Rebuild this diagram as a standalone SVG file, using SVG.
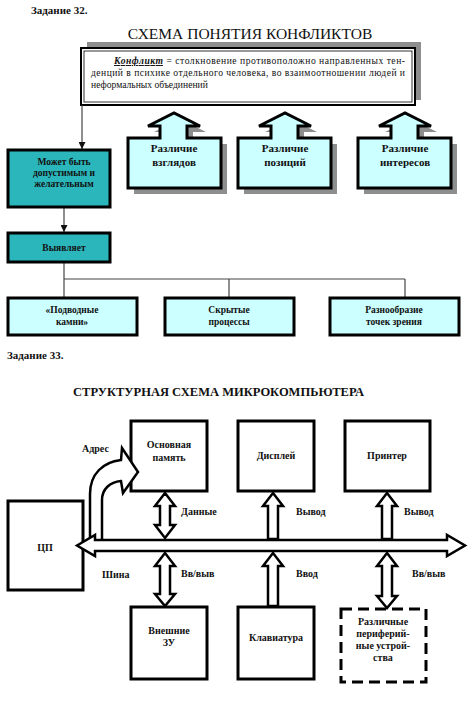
<svg xmlns="http://www.w3.org/2000/svg" width="474" height="705" viewBox="0 0 474 705">
<style>
text{font-family:"Liberation Serif","Times New Roman",serif;fill:#111}
.b{font-weight:bold}
.lbl{font-weight:bold;font-size:10px}
.box{fill:#fff;stroke:#000;stroke-width:3}
.teal{fill:#2bb6bc;stroke:#000;stroke-width:3}
.cyan{fill:#ccffff;stroke:#000;stroke-width:3}
.shadow{fill:#8e8e8e}
.ln{fill:none;stroke:#444;stroke-width:1.2}
.barrow{fill:#fff;stroke:#000;stroke-width:2.5;stroke-linejoin:miter}
.c{text-anchor:middle}
</style>
<defs>
<marker id="ah" viewBox="0 0 10 10" refX="10" refY="5" markerWidth="7" markerHeight="7" markerUnits="userSpaceOnUse" orient="auto">
<path d="M0,0 L10,5 L0,10 Z" fill="#111"/>
</marker>
</defs>

<rect width="474" height="705" fill="#fff"/>

<!-- Task 32 -->
<text x="31" y="14" class="b" font-size="11">Задание 32.</text>
<text x="250" y="39" class="c" font-size="15.5">СХЕМА ПОНЯТИЯ КОНФЛИКТОВ</text>

<g id="definition">
<rect class="shadow" x="87" y="42" width="334" height="58"/>
<rect x="81" y="48" width="334" height="57" fill="#fff" stroke="#000" stroke-width="2"/>
<rect x="84" y="51" width="328" height="51" fill="none" stroke="#000" stroke-width="0.8"/>
<text x="114" y="64" font-size="9.6" textLength="291" lengthAdjust="spacing"><tspan font-weight="bold" font-style="italic" text-decoration="underline">Конфликт</tspan> = столкновение противоположно направленных тен-</text>
<text x="91" y="76" font-size="9.6" textLength="314" lengthAdjust="spacing">денций в психике отдельного человека, во взаимоотношении людей и</text>
<text x="91" y="88" font-size="9.6">неформальных объединений</text>
</g>

<g id="callout1">
<path class="shadow" d="M134,144 L166,144 L166,132 L154,132 L180,119 L206,132 L193,132 L193,144 L227,144 L227,194 L134,194 Z"/>
<path class="cyan" d="M128,138 L160,138 L160,126 L148,126 L174,113 L200,126 L187,126 L187,138 L221,138 L221,188 L128,188 Z"/>
<text x="174" y="152" class="c b" font-size="11">Различие</text>
<text x="174" y="166" class="c b" font-size="11">взглядов</text>
</g>
<g id="callout2">
<path class="shadow" d="M244,144 L277,144 L277,132 L265,132 L291,119 L317,132 L304,132 L304,144 L337,144 L337,194 L244,194 Z"/>
<path class="cyan" d="M238,138 L271,138 L271,126 L259,126 L285,113 L311,126 L298,126 L298,138 L331,138 L331,188 L238,188 Z"/>
<text x="285" y="152" class="c b" font-size="11">Различие</text>
<text x="285" y="166" class="c b" font-size="11">позиций</text>
</g>
<g id="callout3">
<path class="shadow" d="M364,144 L397,144 L397,132 L385,132 L411,119 L437,132 L424,132 L424,144 L457,144 L457,194 L364,194 Z"/>
<path class="cyan" d="M358,138 L391,138 L391,126 L379,126 L405,113 L431,126 L418,126 L418,138 L451,138 L451,188 L358,188 Z"/>
<text x="405" y="152" class="c b" font-size="11">Различие</text>
<text x="405" y="166" class="c b" font-size="11">интересов</text>
</g>

<g id="connectors32">
<line class="ln" x1="82" y1="105" x2="82" y2="149" marker-end="url(#ah)"/>
<line class="ln" x1="64" y1="207" x2="64" y2="232" marker-end="url(#ah)"/>
<line class="ln" x1="64" y1="262" x2="64" y2="298"/>
<line class="ln" x1="64" y1="279" x2="405" y2="279"/>
<line class="ln" x1="229" y1="279" x2="229" y2="298"/>
<line class="ln" x1="405" y1="279" x2="405" y2="298"/>
</g>

<g id="may-be">
<rect class="teal" x="8" y="150" width="102" height="57"/>
<text x="64" y="165" class="c b" font-size="9.5">Может быть</text>
<text x="64" y="176" class="c b" font-size="9.5">допустимым и</text>
<text x="64" y="187" class="c b" font-size="9.5">желательным</text>
</g>
<g id="reveals">
<rect class="teal" x="8" y="233" width="102" height="29"/>
<text x="64" y="251" class="c b" font-size="9.5">Выявляет</text>
</g>
<g id="stones">
<rect class="cyan" x="8" y="298" width="129" height="37"/>
<text x="72" y="313" class="c b" font-size="9.5">«Подводные</text>
<text x="72" y="325" class="c b" font-size="9.5">камни»</text>
</g>
<g id="hidden">
<rect class="cyan" x="165" y="298" width="129" height="37"/>
<text x="229" y="313" class="c b" font-size="9.5">Скрытые</text>
<text x="229" y="325" class="c b" font-size="9.5">процессы</text>
</g>
<g id="variety">
<rect class="cyan" x="330" y="298" width="129" height="37"/>
<text x="394" y="313" class="c b" font-size="9.5">Разнообразие</text>
<text x="394" y="325" class="c b" font-size="9.5">точек зрения</text>
</g>

<!-- Task 33 -->
<text x="7" y="359" class="b" font-size="11">Задание 33.</text>
<text x="73" y="396" class="b" font-size="13.5" textLength="291" lengthAdjust="spacingAndGlyphs">СТРУКТУРНАЯ СХЕМА МИКРОКОМПЬЮТЕРА</text>

<g id="memory">
<rect class="box" x="131" y="421" width="76" height="70"/>
<text x="169" y="448" class="c lbl">Основная</text>
<text x="169" y="461" class="c lbl">память</text>
</g>
<g id="display">
<rect class="box" x="238" y="421" width="76" height="70"/>
<text x="276" y="459" class="c lbl">Дисплей</text>
</g>
<g id="printer">
<rect class="box" x="345" y="421" width="85" height="70"/>
<text x="387" y="459" class="c lbl">Принтер</text>
</g>
<g id="cpu">
<rect class="box" x="8" y="501" width="75" height="89"/>
<text x="45" y="551" class="c lbl">ЦП</text>
</g>
<g id="ext-storage">
<rect class="box" x="131" y="607" width="76" height="72"/>
<text x="169" y="634" class="c lbl">Внешние</text>
<text x="169" y="646" class="c lbl">ЗУ</text>
</g>
<g id="keyboard">
<rect class="box" x="238" y="607" width="76" height="72"/>
<text x="276" y="641" class="c lbl">Клавиатура</text>
</g>
<g id="peripherals">
<rect x="341" y="609" width="85" height="73" fill="#fff" stroke="#000" stroke-width="3" stroke-dasharray="11,6"/>
<text x="383" y="625" class="c lbl">Различные</text>
<text x="383" y="637" class="c lbl">периферий-</text>
<text x="383" y="649" class="c lbl">ные устрой-</text>
<text x="383" y="661" class="c lbl">ства</text>
</g>

<g id="connectors33">
<path class="barrow" d="M90,541 L90,494 C90,474 103,462 121,460 L122,448 L138,472 L123,493 L121,481 C110,482 102,489 102,500 L102,541 Z"/>
<path class="barrow" d="M77,545.5 L95,535 L95,540 L447,540 L447,535 L465,545.5 L447,556 L447,551 L95,551 L95,556 Z"/>
<path class="barrow" d="M165,493 L175,506 L170,506 L170,525 L175,525 L165,538 L155,525 L160,525 L160,506 L155,506 Z"/>
<path class="barrow" d="M273,493 L283,506 L278,506 L278,539 L268,539 L268,506 L263,506 Z"/>
<path class="barrow" d="M387,493 L397,506 L392,506 L392,539 L382,539 L382,506 L377,506 Z"/>
<path class="barrow" d="M165,553 L175,566 L170,566 L170,594 L175,594 L165,606 L155,594 L160,594 L160,566 L155,566 Z"/>
<path class="barrow" d="M273,553 L283,566 L278,566 L278,606 L268,606 L268,566 L263,566 Z"/>
<path class="barrow" d="M387,553 L397,566 L392,566 L392,596 L397,596 L387,608 L377,596 L382,596 L382,566 L377,566 Z"/>
<text x="82" y="452" class="lbl">Адрес</text>
<text x="181" y="515" class="lbl">Данные</text>
<text x="296" y="515" class="lbl">Вывод</text>
<text x="404" y="515" class="lbl">Вывод</text>
<text x="102" y="578" class="lbl">Шина</text>
<text x="181" y="577" class="lbl">Вв/выв</text>
<text x="296" y="577" class="lbl">Ввод</text>
<text x="412" y="577" class="lbl">Вв/выв</text>
</g>
</svg>
